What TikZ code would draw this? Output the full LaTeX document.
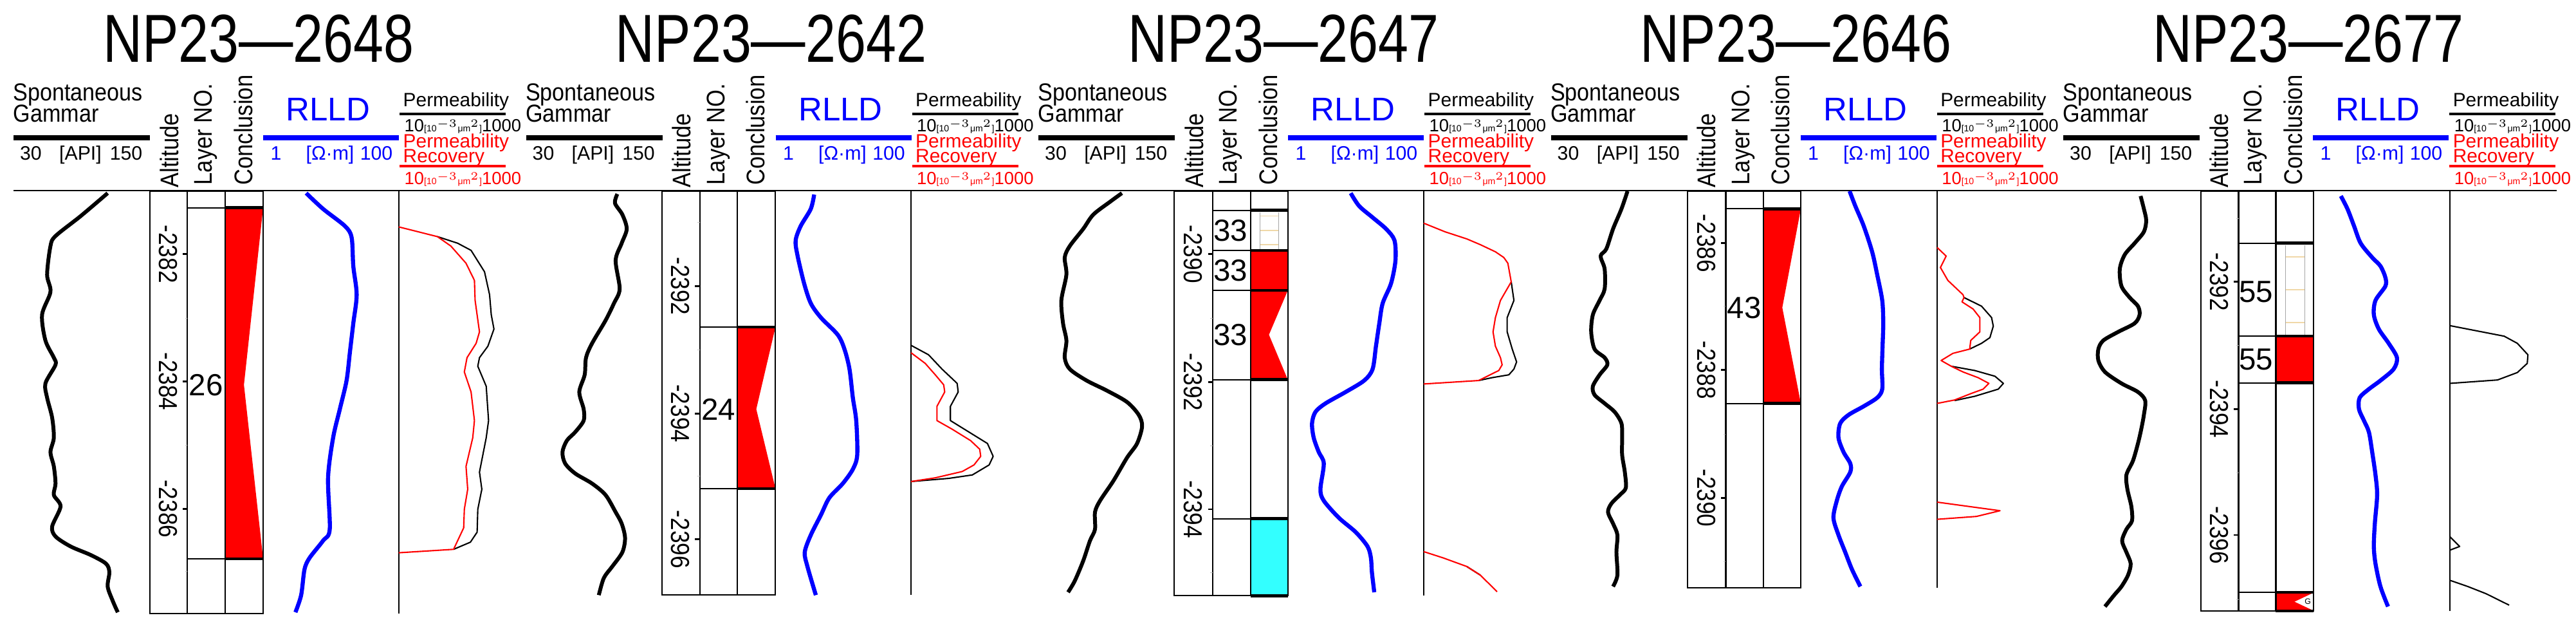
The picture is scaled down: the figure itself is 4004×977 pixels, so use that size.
\documentclass[tikz,border=0pt]{standalone}
\usepackage{fontspec}
\setmainfont{Liberation Sans}
\newfontfamily\ttlfont[FakeStretch=0.8]{Liberation Sans}
\newcommand\fz[1]{\fontsize{#1pt}{#1pt}\selectfont}
\definecolor{cyanw}{HTML}{33FFFF}
\definecolor{tan}{HTML}{F0D8A8}
\tikzset{
  sp/.style={line width=1.7pt,black,line join=round,line cap=butt},
  rl/.style={line width=1.8pt,blue,line join=round},
  pk/.style={line width=0.6pt,line join=round},
  bx/.style={line width=0.6pt},
  tb/.style={line width=1.3pt},
  tk/.style={line width=0.8pt},
  mt/.style={line width=0.3pt,black!25},
  tl/.style={rotate=-90,font=\fz{10},inner sep=0pt},
  ln/.style={font=\fz{13.5},inner sep=0pt},
  hd/.style={font=\fz{9.7},inner sep=0pt},
  sm/.style={font=\fz{8.6},inner sep=0pt},
  rot/.style={rotate=90,anchor=west,font=\fz{9.8},inner sep=0pt},
}
\newcommand\tlab[1]{\scalebox{1}[1.15]{#1}}
\newcommand\header[2]{%
\begin{scope}[shift={(#1,0)}]
\node[font=\ttlfont\fz{30},anchor=base,inner sep=0pt] (t#2) at (402,97) {NP23—#2};
\node[hd,anchor=base west] (sg#2) at (20,157) {\scalebox{1}[1.12]{Spontaneous}};
\node[hd,anchor=base west] (gm#2) at (20,190) {\scalebox{1}[1.12]{Gammar}};
\draw[line width=0.8mm] (21,214)--(233,214);
\node[sm,anchor=base] (a#2) at (48,249) {30};
\node[sm,anchor=base] (b#2) at (125,249) {[API]};
\node[sm,anchor=base] (c#2) at (196,249) {150};
\node[rot] (al#2) at (263,292) {\scalebox{1}[1.15]{Altitude}};
\node[rot] (ly#2) at (320,288) {\scalebox{1}[1.15]{Layer NO.}};
\node[rot] (cc#2) at (378,288) {\scalebox{1}[1.15]{Conclusion}};
\node[font=\fz{14.5},blue,anchor=base,inner sep=0pt] (rd#2) at (510,188) {RLLD};
\draw[blue,line width=0.8mm] (409,214)--(620,214);
\node[sm,blue,anchor=base] (d#2) at (429,249) {1};
\node[sm,blue,anchor=base] (e#2) at (513,249) {[Ω·m]};
\node[sm,blue,anchor=base] (f#2) at (585,249) {100};
\node[font=\fz{8.5},anchor=base west,inner sep=0pt] (p#2) at (626,166) {Permeability};
\draw[line width=0.9pt] (621,177)--(786,177);
\node[font=\fz{7.8},anchor=base west,inner sep=0pt] (q#2) at (628,205) {10{\fz{4}[10$^{-3}$μm$^{2}$]}1000};
\node[font=\fz{8.5},red,anchor=base west,inner sep=0pt] (r#2) at (626,230) {Permeability};
\node[font=\fz{8.5},red,anchor=base west,inner sep=0pt] (s#2) at (626,253) {Recovery};
\draw[red,line width=0.9pt] (621,258)--(786,258);
\node[font=\fz{7.8},red,anchor=base west,inner sep=0pt] (u#2) at (628,287) {10{\fz{4}[10$^{-3}$μm$^{2}$]}1000};
\end{scope}}
\begin{document}
\begin{tikzpicture}[x=0.01cm,y=-0.01cm]
\useasboundingbox (0,0) rectangle (4004,977);
\header{0}{2648}
\header{796.5}{2642}
\header{1593}{2647}
\header{2389.5}{2646}
\header{3186}{2677}
\draw[bx] (21,296)--(3974,296);

% ---------- Panel 1
\begin{scope}[shift={(0,280)},xscale=0.523,yscale=0.4444]
\fill[red] (669,96)--(782,96)--(725,715)--(782,1323)--(669,1323)--cycle;
\draw[bx] (445,38) rectangle (782,1515);
\draw[bx] (557,38)--(557,1515) (669,38)--(669,1515);
\draw[bx] (557,96)--(669,96) (557,1323)--(669,1323);
\draw[tb] (669,96)--(782,96) (669,1323)--(782,1323);
\foreach \y/\t in {258/-2382,703/-2384,1148/-2386}{\draw[tk] (543,\y)--(557,\y); \node[tl] at (500,\y) {\tlab{\t}};}
\foreach \y in {482,925,1368}{\draw[mt] (550,\y)--(557,\y);}
\node[ln] (l1) at (612,715) {26};
\draw[sp] plot[smooth,tension=0.5] coordinates {(320,45)(240,125)(165,195)(150,230)(140,330)(150,390)(125,470)(135,560)(160,620)(165,645)(135,710)(140,760)(155,830)(160,900)(150,950)(160,1000)(165,1060)(160,1100)(180,1140)(155,1210)(165,1245)(210,1280)(270,1310)(315,1340)(325,1370)(320,1420)(335,1470)(350,1510)};
\draw[rl] plot[smooth,tension=0.5] coordinates {(910,45)(960,100)(1025,160)(1045,200)(1050,300)(1060,400)(1050,500)(1040,600)(1030,700)(1010,800)(990,900)(975,1040)(980,1220)(960,1260)(920,1320)(905,1360)(895,1450)(878,1510)};
\draw[bx] (1185,38)--(1185,1515);
\draw[pk] (1300,197)--(1360,220)--(1400,245)--(1440,320)--(1455,400)--(1460,470)--(1468,520)--(1450,580)--(1425,620)--(1420,650)--(1445,720)--(1452,840)--(1445,900)--(1425,1020)--(1432,1080)--(1420,1150)--(1418,1230)--(1398,1265)--(1348,1290);
\draw[pk,red] (1185,163)--(1300,197)--(1340,230)--(1385,290)--(1410,350)--(1412,420)--(1425,530)--(1415,570)--(1388,620)--(1380,670)--(1400,740)--(1410,840)--(1405,900)--(1385,1000)--(1390,1080)--(1380,1150)--(1378,1215)--(1348,1290)--(1185,1302);
\end{scope}

% ---------- Panel 2
\begin{scope}[shift={(800,280)},xscale=0.523,yscale=0.4444]
\fill[red] (662,513)--(775,513)--(718,800)--(775,1078)--(662,1078)--cycle;
\draw[bx] (437,38) rectangle (775,1450);
\draw[bx] (550,38)--(550,1450) (662,38)--(662,1450);
\draw[bx] (550,513)--(662,513) (550,1078)--(662,1078);
\draw[tb] (662,513)--(775,513) (662,1078)--(775,1078);
\foreach \y/\t in {370/-2392,815/-2394,1255/-2396}{\draw[tk] (536,\y)--(550,\y); \node[tl] at (492,\y) {\tlab{\t}};}
\foreach \y in {148,593,1035}{\draw[mt] (543,\y)--(550,\y);}
\node[ln] (l2) at (605,800) {24};
\draw[sp] plot[smooth,tension=0.5] coordinates {(305,48)(298,80)(320,120)(333,170)(318,220)(300,280)(312,380)(295,430)(270,490)(230,570)(212,620)(208,680)(192,740)(205,800)(205,840)(180,880)(155,910)(142,950)(150,990)(180,1025)(230,1060)(270,1100)(300,1160)(318,1200)(328,1250)(320,1300)(290,1350)(265,1390)(250,1450)};
\draw[rl] plot[smooth,tension=0.5] coordinates {(890,50)(880,100)(850,160)(835,210)(840,260)(860,360)(880,430)(910,480)(960,540)(980,590)(995,660)(1005,760)(1015,840)(1018,960)(1005,1010)(975,1060)(935,1110)(910,1170)(880,1240)(862,1300)(870,1350)(895,1450)};
\draw[bx] (1178,38)--(1178,1450);
\draw[pk] (1178,577)--(1230,610)--(1270,660)--(1315,710)--(1318,740)--(1295,790)--(1295,840)--(1350,880)--(1405,920)--(1422,965)--(1410,995)--(1360,1030)--(1290,1042)--(1178,1053);
\draw[pk,red] (1178,603)--(1220,640)--(1250,680)--(1275,715)--(1278,740)--(1255,790)--(1255,840)--(1300,870)--(1355,910)--(1382,940)--(1385,965)--(1365,995)--(1330,1018)--(1250,1040)--(1178,1053);
\end{scope}

% ---------- Panel 3
\begin{scope}[shift={(1600,280)},xscale=0.523,yscale=0.4444]
\fill[red] (657,245) rectangle (768,385);
\fill[red] (657,385)--(768,385)--(712,540)--(768,697)--(657,697)--cycle;
\fill[cyanw] (657,1183) rectangle (768,1452);
\foreach \y in {125,175,225}{\draw[tan,line width=0.5pt] (686,\y)--(740,\y);}
\draw[black!35,line width=0.3pt] (686,112)--(686,240) (740,112)--(740,240);
\draw[bx] (430,38) rectangle (768,1452);
\draw[bx] (545,38)--(545,1452) (657,38)--(657,1452);
\foreach \y in {105,245,385,697,1183}{\draw[bx] (545,\y)--(657,\y); \draw[tb] (657,\y)--(768,\y);}
\draw[tb] (657,1452)--(768,1452);
\foreach \y/\t in {258/-2390,705/-2392,1150/-2394}{\draw[tk] (531,\y)--(545,\y); \node[tl] at (487,\y) {\tlab{\t}};}
\foreach \y in {482,928,1372}{\draw[mt] (538,\y)--(545,\y);}
\node[ln] (l3a) at (598,175) {33};
\node[ln] (l3b) at (598,315) {33};
\node[ln] (l3c) at (598,540) {33};
\draw[sp] plot[smooth,tension=0.5] coordinates {(275,45)(240,75)(190,120)(160,170)(120,230)(105,270)(110,330)(95,420)(100,500)(110,560)(105,620)(120,660)(170,700)(230,735)(290,775)(325,820)(335,860)(320,920)(290,970)(250,1050)(210,1120)(195,1160)(195,1220)(180,1260)(160,1330)(135,1400)(115,1440)};
\draw[rl] plot[smooth,tension=0.5] coordinates {(955,45)(980,90)(1020,130)(1060,170)(1085,210)(1088,280)(1075,360)(1050,430)(1040,500)(1030,580)(1020,660)(995,700)(940,740)(880,780)(850,810)(840,850)(845,900)(860,950)(875,990)(865,1080)(875,1120)(920,1180)(970,1230)(1005,1280)(1015,1320)(1018,1370)(1025,1440)};
\draw[bx] (1172,38)--(1172,1452);
\draw[pk] (1432,355)--(1440,420)--(1420,480)--(1420,530)--(1435,590)--(1448,635)--(1440,660)--(1425,680)--(1375,690)--(1335,700);
\draw[pk,red] (1172,150)--(1235,180)--(1300,205)--(1340,225)--(1385,250)--(1410,270)--(1422,290)--(1432,355)--(1400,420)--(1385,480)--(1378,530)--(1385,580)--(1400,620)--(1405,645)--(1395,665)--(1335,700)--(1172,712);
\draw[pk] (1300,1350)--(1340,1380);
\draw[pk,red] (1172,1298)--(1230,1320)--(1300,1350)--(1340,1380)--(1390,1438);
\end{scope}

% ---------- Panel 4
\begin{scope}[shift={(2400,280)},xscale=0.523,yscale=0.4444]
\fill[red] (652,100)--(763,100)--(708,445)--(763,780)--(652,780)--cycle;
\draw[bx] (427,38) rectangle (763,1425);
\draw[bx] (540,38)--(540,1425) (652,38)--(652,1425);
\draw[bx] (540,100)--(652,100) (540,780)--(652,780);
\draw[tb] (652,100)--(763,100) (652,780)--(763,780);
\foreach \y/\t in {220/-2386,663/-2388,1110/-2390}{\draw[tk] (526,\y)--(540,\y); \node[tl] at (482,\y) {\tlab{\t}};}
\foreach \y in {440,887,1333}{\draw[mt] (533,\y)--(540,\y);}
\node[ln] (l4) at (595,445) {43};
\draw[sp] plot[smooth,tension=0.5] coordinates {(248,38)(230,100)(205,170)(185,240)(168,265)(180,310)(180,380)(165,420)(145,470)(140,530)(150,590)(180,620)(188,645)(165,680)(145,720)(150,750)(180,780)(210,810)(230,850)(232,900)(232,960)(240,1020)(243,1075)(225,1100)(200,1130)(190,1160)(205,1200)(218,1240)(215,1300)(218,1380)(205,1420)};
\draw[rl] plot[smooth,tension=0.5] coordinates {(908,38)(925,90)(950,160)(975,250)(990,330)(1005,420)(1008,500)(1006,580)(1004,660)(1005,730)(990,760)(950,790)(905,820)(880,850)(875,900)(890,950)(910,990)(910,1020)(885,1070)(870,1120)(860,1180)(875,1240)(895,1300)(915,1360)(940,1420)};
\draw[bx] (1168,38)--(1168,1425);
\draw[pk] (1248,410)--(1300,440)--(1330,480)--(1335,510)--(1325,550)--(1300,570)--(1265,590);
\draw[pk] (1210,650)--(1280,665)--(1340,685)--(1365,710)--(1350,730)--(1280,755)--(1220,770);
\draw[pk,red] (1168,235)--(1195,265)--(1178,305)--(1200,350)--(1245,400)--(1248,410)--(1242,425)--(1275,450)--(1295,480)--(1295,530)--(1268,560)--(1265,590)--(1215,605)--(1180,630)--(1210,650)--(1245,670)--(1290,690)--(1322,710)--(1305,730)--(1270,745)--(1220,768)--(1168,780);
\draw[pk,red] (1168,1125)--(1355,1155)--(1285,1175)--(1168,1185);
\end{scope}

% ---------- Panel 5
\begin{scope}[shift={(3200,280)},xscale=0.5128,yscale=0.4444]
\fill[red] (658,545) rectangle (772,708);
\fill[red] (658,1440) rectangle (772,1505);
\fill[white] (715,1473)--(770,1443)--(770,1503)--cycle;
\node[font=\fz{3.5},inner sep=0pt] (g5) at (755,1473) {G};
\foreach \y in {268,383,497}{\draw[tan,line width=0.5pt] (688,\y)--(745,\y);}
\draw[black!35,line width=0.3pt] (688,228)--(688,540) (745,228)--(745,540);
\draw[bx] (430,38) rectangle (772,1505);
\draw[bx] (545,38)--(545,1505) (658,38)--(658,1505);
\foreach \y in {220,545,708,1440}{\draw[bx] (545,\y)--(658,\y); \draw[tb] (658,\y)--(772,\y);}
\draw[tb] (658,1505)--(772,1505);
\foreach \y/\t in {355/-2392,800/-2394,1240/-2396}{\draw[tk] (531,\y)--(545,\y); \node[tl] at (487,\y) {\tlab{\t}};}
\foreach \y in {133,578,1022,1465}{\draw[mt] (538,\y)--(545,\y);}
\node[ln] (l5a) at (598,390) {55};
\node[ln] (l5b) at (598,627) {55};
\draw[sp] plot[smooth,tension=0.5] coordinates {(248,55)(258,100)(265,140)(258,180)(230,220)(200,260)(185,310)(190,370)(215,410)(240,440)(245,470)(230,500)(180,530)(135,560)(120,590)(120,630)(140,670)(190,710)(240,740)(262,770)(258,820)(250,870)(240,920)(225,980)(205,1030)(208,1080)(220,1140)(222,1190)(205,1220)(192,1260)(205,1300)(218,1340)(210,1380)(190,1420)(168,1450)(140,1490)};
\draw[rl] plot[smooth,tension=0.5] coordinates {(855,55)(875,100)(895,160)(915,220)(950,270)(975,300)(990,340)(990,370)(960,420)(955,470)(970,520)(1000,570)(1025,620)(1015,660)(975,700)(940,730)(912,760)(910,800)(925,840)(940,880)(950,950)(960,1030)(965,1100)(958,1200)(955,1280)(960,1340)(975,1420)(998,1490)};
\draw[bx] (1185,38)--(1185,1505);
\draw[pk] (1185,508)--(1350,545)--(1390,570)--(1422,610)--(1420,640)--(1390,672)--(1330,698)--(1185,710);
\draw[pk] (1185,1245)--(1215,1280)--(1185,1293);
\draw[pk] (1185,1398)--(1240,1420)--(1295,1445)--(1365,1485);
\end{scope}
\end{tikzpicture}
\end{document}
